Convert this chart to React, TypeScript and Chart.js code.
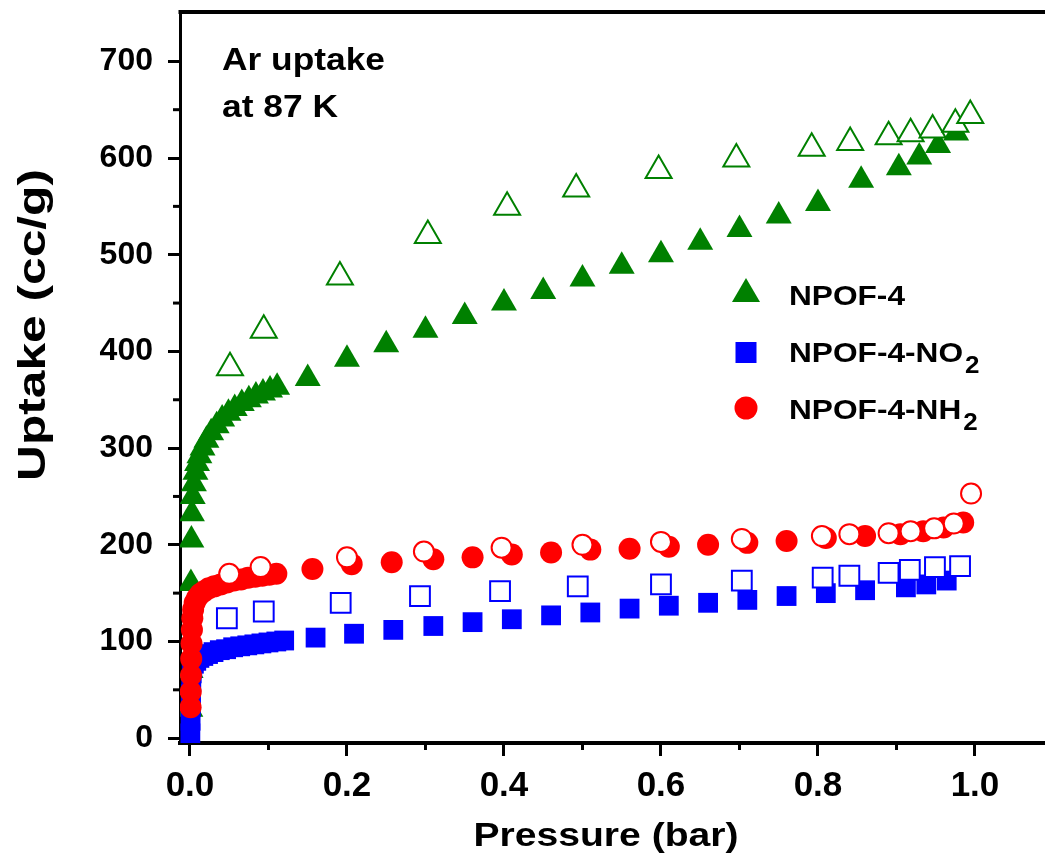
import React, { useEffect, useRef } from 'react';
import { Chart, registerables } from 'chart.js';

Chart.register(...registerables);

// ---- Data (pressure in bar, uptake in cc/g) ----
const npof4AdsP = [0.0005, 0.0008, 0.0012, 0.0018, 0.0025, 0.0035, 0.005, 0.007, 0.009, 0.012, 0.016, 0.021, 0.027, 0.034, 0.041, 0.049, 0.057, 0.066, 0.075, 0.084, 0.093, 0.102, 0.111, 0.15, 0.2, 0.25, 0.3, 0.35, 0.4, 0.45, 0.5, 0.55, 0.6, 0.65, 0.7, 0.75, 0.8, 0.855, 0.903, 0.929, 0.953, 0.976];
const npof4AdsV = [30, 70, 160, 205, 232, 250, 263, 275, 284, 292, 300, 308, 316, 323, 330, 336, 341, 346, 350, 354, 357, 360, 363, 372, 392, 407, 422, 436, 450, 462, 475, 488, 500, 513, 526, 540, 553, 577, 590, 601, 613, 626];
const npof4DesP = [0.051, 0.094, 0.191, 0.303, 0.404, 0.492, 0.597, 0.696, 0.792, 0.841, 0.89, 0.918, 0.946, 0.975, 0.994];
const npof4DesV = [383, 422, 477, 520, 549, 568, 587, 599, 610, 616, 622, 625, 629, 635, 644];

const no2AdsP = [0.0005, 0.0008, 0.001, 0.0013, 0.0017, 0.0022, 0.003, 0.005, 0.008, 0.012, 0.017, 0.023, 0.03, 0.038, 0.046, 0.055, 0.064, 0.073, 0.082, 0.091, 0.1, 0.11, 0.12, 0.16, 0.209, 0.259, 0.31, 0.36, 0.41, 0.46, 0.51, 0.56, 0.61, 0.66, 0.71, 0.76, 0.81, 0.86, 0.912, 0.938, 0.964];
const no2AdsV = [5, 18, 32, 46, 58, 67, 73, 77, 80, 83, 85, 87, 89, 91, 92, 94, 95, 96, 97, 98, 99, 100, 101, 104, 108, 112, 116, 120, 123, 127, 130, 134, 137, 140, 143, 147, 150, 153, 156, 159, 163];
const no2DesP = [0.047, 0.094, 0.192, 0.293, 0.395, 0.494, 0.6, 0.703, 0.806, 0.84, 0.89, 0.917, 0.949, 0.981];
const no2DesV = [124, 131, 140, 147, 152, 157, 159, 163, 166, 168, 171, 174, 177, 178];

const nh2AdsP = [0.0008, 0.001, 0.0013, 0.0016, 0.002, 0.0025, 0.003, 0.004, 0.006, 0.009, 0.013, 0.018, 0.024, 0.031, 0.039, 0.047, 0.056, 0.065, 0.074, 0.083, 0.092, 0.101, 0.11, 0.156, 0.206, 0.257, 0.31, 0.36, 0.41, 0.46, 0.51, 0.56, 0.61, 0.66, 0.71, 0.76, 0.81, 0.86, 0.905, 0.934, 0.96, 0.985];
const nh2AdsV = [32, 48, 65, 82, 98, 112, 124, 133, 140, 145, 149, 152, 155, 157, 159, 161, 163, 164, 166, 167, 168, 169, 170, 175, 180, 182, 185, 187, 190, 192, 195, 196, 198, 200, 202, 204, 207, 209, 211, 214, 218, 223];
const nh2DesP = [0.05, 0.09, 0.2, 0.298, 0.397, 0.5, 0.6, 0.703, 0.805, 0.84, 0.89, 0.918, 0.948, 0.973, 0.995];
const nh2DesV = [170, 177, 187, 193, 197, 200, 203, 206, 209, 211, 212, 214, 217, 222, 253];

const xMajorTicks = [0, 0.2, 0.4, 0.6, 0.8, 1.0];
const xMinorTicks = [0.1, 0.3, 0.5, 0.7, 0.9];
const yMinorTicks = [50, 150, 250, 350, 450, 550, 650];

const GREEN = '#008000';
const BLUE = '#0000FF';
const RED = '#FF0000';
const FONT = "'Liberation Sans', Arial, sans-serif";

const zip = (xs: number[], ys: number[]) => xs.map((x, i) => ({ x, y: ys[i] }));

// draw text with a horizontal stretch so it spans a target width
function stretchText(ctx: CanvasRenderingContext2D, text: string, x: number, y: number, size: number, width: number, align: 'left' | 'center') {
  ctx.save();
  ctx.font = `bold ${size}px ${FONT}`;
  const natural = ctx.measureText(text).width;
  const k = width / natural;
  ctx.translate(x, y);
  ctx.scale(k, 1);
  ctx.textAlign = align;
  ctx.textBaseline = 'alphabetic';
  ctx.fillText(text, 0, 0);
  ctx.restore();
}

const decorPlugin = {
  id: 'decor',
  afterDraw(chart: any) {
    const ctx = chart.ctx as CanvasRenderingContext2D;
    const { left, right, top, bottom } = chart.chartArea;
    const xs = chart.scales.x;
    const ys = chart.scales.y;
    ctx.save();
    ctx.strokeStyle = '#000';
    // top frame line
    ctx.lineWidth = 4;
    ctx.beginPath();
    ctx.moveTo(left - 1.5, top - 1);
    ctx.lineTo(right, top - 1);
    ctx.stroke();
    // minor ticks
    ctx.lineWidth = 3;
    xMinorTicks.forEach((v) => {
      const px = xs.getPixelForValue(v);
      ctx.beginPath();
      ctx.moveTo(px, bottom);
      ctx.lineTo(px, bottom + 7);
      ctx.stroke();
    });
    yMinorTicks.forEach((v) => {
      const py = ys.getPixelForValue(v);
      ctx.beginPath();
      ctx.moveTo(left, py);
      ctx.lineTo(left - 7, py);
      ctx.stroke();
    });

    ctx.fillStyle = '#000';
    // annotation
    stretchText(ctx, 'Ar uptake', 222, 70, 32, 163, 'left');
    stretchText(ctx, 'at 87 K', 222, 117, 32, 116, 'left');

    // x title
    stretchText(ctx, 'Pressure (bar)', 606, 846, 33, 265, 'center');

    // y title (rotated)
    ctx.save();
    ctx.translate(45, 325);
    ctx.rotate(-Math.PI / 2);
    stretchText(ctx, 'Uptake (cc/g)', 0, 0, 38, 312, 'center');
    ctx.restore();

    // legend
    const mx = 746;
    ctx.fillStyle = GREEN;
    ctx.beginPath();
    ctx.moveTo(mx, 278);
    ctx.lineTo(mx + 14, 302);
    ctx.lineTo(mx - 14, 302);
    ctx.closePath();
    ctx.fill();
    ctx.fillStyle = BLUE;
    ctx.fillRect(mx - 10.5, 342, 21, 21);
    ctx.fillStyle = RED;
    ctx.beginPath();
    ctx.arc(mx, 408, 11.5, 0, Math.PI * 2);
    ctx.fill();

    ctx.fillStyle = '#000';
    const tx = 789;
    const k = 1.13;
    stretchText(ctx, 'NPOF-4', tx, 305, 28, 116, 'left');
    ctx.font = `bold 28px ${FONT}`;
    const w1 = ctx.measureText('NPOF-4-NO').width * k;
    stretchText(ctx, 'NPOF-4-NO', tx, 362, 28, w1, 'left');
    ctx.font = `bold 23px ${FONT}`;
    const ws = ctx.measureText('2').width * k;
    stretchText(ctx, '2', tx + w1 + 2, 373, 23, ws, 'left');
    ctx.font = `bold 28px ${FONT}`;
    const w2 = ctx.measureText('NPOF-4-NH').width * k;
    stretchText(ctx, 'NPOF-4-NH', tx, 419, 28, w2, 'left');
    stretchText(ctx, '2', tx + w2 + 2, 430, 23, ws, 'left');
    ctx.restore();
  },
};

const zeroPad = (s: any) => {
  s.paddingTop = 0;
  s.paddingBottom = 0;
  s.paddingLeft = 0;
  s.paddingRight = 0;
};

export default function App() {
  const ref = useRef<HTMLCanvasElement | null>(null);

  useEffect(() => {
    if (!ref.current) return;
    const filled = (label: string, data: any[], color: string, style: string, r: number) => ({
      label,
      data,
      pointStyle: style,
      pointRadius: r,
      backgroundColor: color,
      borderColor: color,
      borderWidth: 0,
      showLine: false,
    });
    const open = (label: string, data: any[], color: string, style: string, r: number) => ({
      label,
      data,
      pointStyle: style,
      pointRadius: r,
      backgroundColor: '#FFFFFF',
      borderColor: color,
      borderWidth: 2,
      showLine: false,
    });

    const chart = new Chart(ref.current, {
      type: 'scatter',
      data: {
        datasets: [
          open('NPOF-4-NH2 desorption', zip(nh2DesP, nh2DesV), RED, 'circle', 10),
          open('NPOF-4-NO2 desorption', zip(no2DesP, no2DesV), BLUE, 'rect', 14),
          open('NPOF-4 desorption', zip(npof4DesP, npof4DesV), GREEN, 'triangle', 15),
          filled('NPOF-4-NH2', zip(nh2AdsP, nh2AdsV), RED, 'circle', 11),
          filled('NPOF-4-NO2', zip(no2AdsP, no2AdsV), BLUE, 'rect', 14),
          filled('NPOF-4', zip(npof4AdsP, npof4AdsV), GREEN, 'triangle', 15),
        ] as any,
      },
      options: {
        animation: false,
        responsive: false,
        devicePixelRatio: 1,
        layout: { autoPadding: false, padding: { top: 13, right: 0, left: 0, bottom: 0 } },
        plugins: { legend: { display: false }, tooltip: { enabled: false } },
        scales: {
          x: {
            type: 'linear',
            min: -0.0127,
            max: 1.0892,
            afterFit: (s: any) => { s.height = 122; zeroPad(s); },
            afterBuildTicks: (s: any) => { s.ticks = xMajorTicks.map((v) => ({ value: v })); },
            ticks: {
              includeBounds: false,
              padding: 9,
              color: '#000',
              font: { family: FONT, weight: 'bold', size: 35 },
              callback: (v: any) => Number(v).toFixed(1),
              maxRotation: 0,
            },
            grid: { display: true, drawOnChartArea: false, drawTicks: true, tickLength: 13, tickWidth: 3, tickColor: '#000' },
            border: { display: true, width: 4, color: '#000' },
          },
          y: {
            type: 'linear',
            min: -5,
            max: 750,
            afterFit: (s: any) => { s.width = 180; zeroPad(s); },
            ticks: {
              includeBounds: false,
              stepSize: 100,
              padding: 15,
              color: '#000',
              font: { family: FONT, weight: 'bold', size: 32 },
            },
            grid: { display: true, drawOnChartArea: false, drawTicks: true, tickLength: 12, tickWidth: 3, tickColor: '#000' },
            border: { display: true, width: 3, color: '#000' },
          },
        },
      },
      plugins: [decorPlugin],
    });
    return () => chart.destroy();
  }, []);

  return (
    <div style={{ position: 'absolute', left: 0, top: 0, width: 1045, height: 865, background: '#fff' }}>
      <canvas ref={ref} width={1045} height={865} style={{ display: 'block' }} />
    </div>
  );
}
